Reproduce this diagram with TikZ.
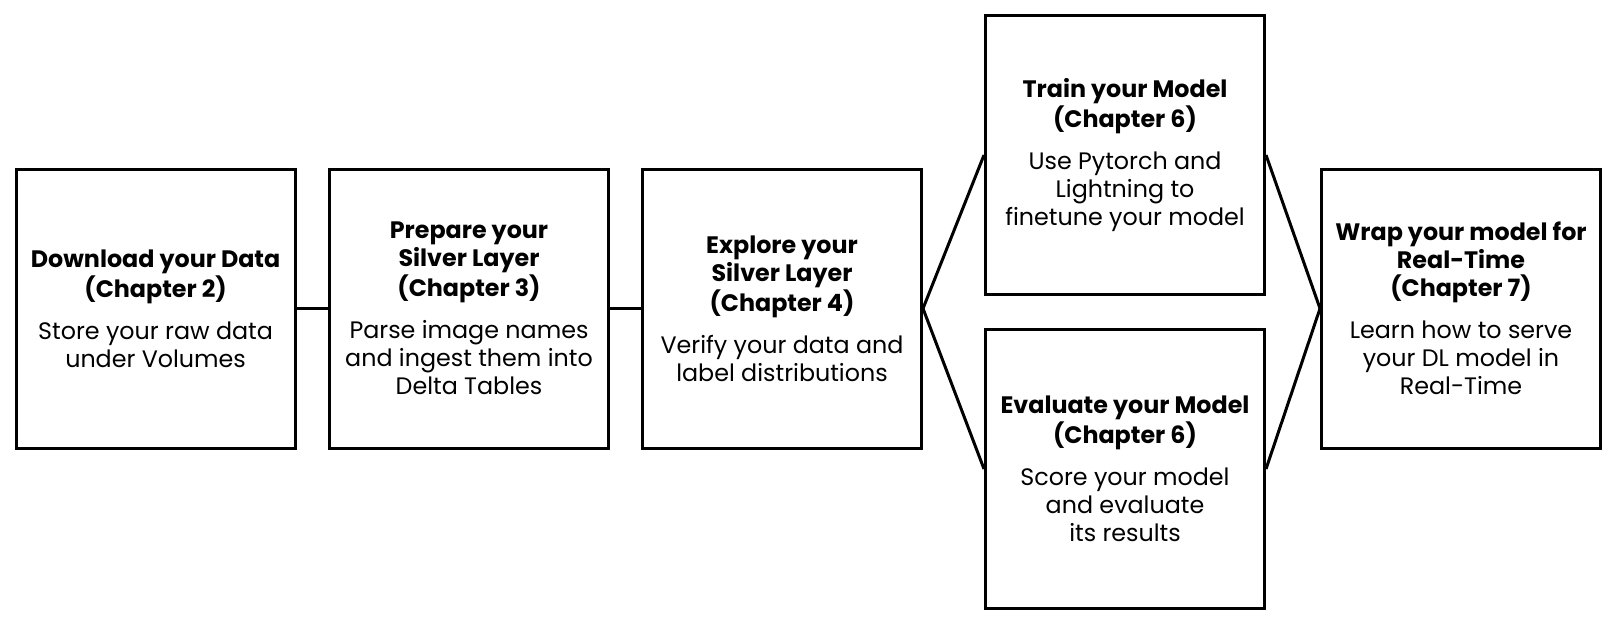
\documentclass[tikz,border=0pt]{standalone}
\usepackage{fontspec}
\setmainfont{Poppins}
\usepackage{tikz}
\usetikzlibrary{positioning, calc}

\begin{document}
\begin{tikzpicture}[x=0.5pt, y=-0.5pt,
    stage/.style={draw, line width=1.5pt, minimum width=139.5pt, minimum height=139.5pt,
        inner sep=0pt, align=center, font=\fontsize{11.9}{14}\selectfont},
    link/.style={line width=1.5pt}]
\useasboundingbox (0,0) rectangle (1616,623);

% Data stages
\node[stage] (download) at (155.6,308.5) {\textbf{Download your Data}\\\textbf{(Chapter 2)}\\[7pt]Store your raw data\\under Volumes};
\node[stage] (prepare) at (469,308.5) {\textbf{Prepare your}\\\textbf{Silver Layer}\\\textbf{(Chapter 3)}\\[7pt]Parse image names\\and ingest them into\\Delta Tables};
\node[stage] (explore) at (782,308.5) {\textbf{Explore your}\\\textbf{Silver Layer}\\\textbf{(Chapter 4)}\\[7pt]Verify your data and\\label distributions};

% Model stages
\node[stage] (train) at (1125,155) {\textbf{Train your Model}\\\textbf{(Chapter 6)}\\[7pt]Use Pytorch and\\Lightning to\\finetune your model};
\node[stage] (evaluate) at (1125,469) {\textbf{Evaluate your Model}\\\textbf{(Chapter 6)}\\[7pt]Score your model\\and evaluate\\its results};

% Serving
\node[stage] (serve) at (1461,308.5) {\textbf{Wrap your model for}\\\textbf{Real-Time}\\\textbf{(Chapter 7)}\\[7pt]Learn how to serve\\your DL model in\\Real-Time};

% Links
\draw[link] (download.east) -- (prepare.west);
\draw[link] (prepare.east) -- (explore.west);
\draw[link] (explore.east) -- (train.west);
\draw[link] (explore.east) -- (evaluate.west);
\draw[link] (train.east) -- (serve.west);
\draw[link] (evaluate.east) -- (serve.west);
\end{tikzpicture}
\end{document}
